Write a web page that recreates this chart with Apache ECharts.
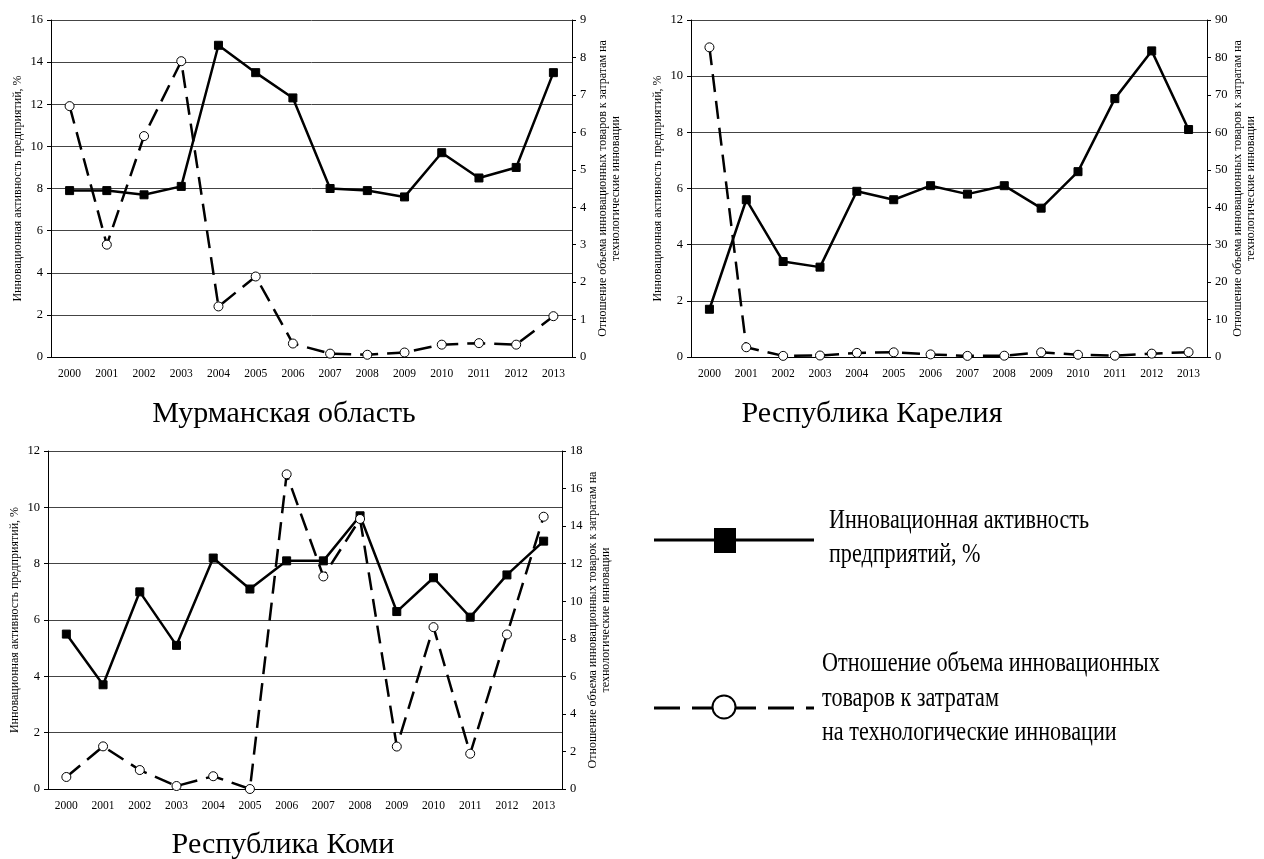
<!DOCTYPE html>
<html><head><meta charset="utf-8">
<script src="https://cdn.jsdelivr.net/npm/echarts@6/dist/echarts.min.js"></script>
<style>html,body{margin:0;padding:0;background:#fff}#c{width:1264px;height:859px}</style>
</head><body><div id="c"></div>
<script>
const years = ['2000','2001','2002','2003','2004','2005','2006','2007','2008','2009','2010','2011','2012','2013'];
const titles = ['Мурманская область','Республика Карелия','Республика Коми'];
const leftName = 'Инновационная активность предприятий, %';
const rightNames = [
  'Отношение объема инновационных товаров к затратам на\nтехнологические инновации',
  'Отношение объема инновационных товаров к затратам на\nтехнологические инновации',
  'Отношение объема инновационных товарок к затратам на\nтехнологические инновации'
];
const murmanskActivity = [7.9,7.9,7.7,8.1,14.8,13.5,12.3,8.0,7.9,7.6,9.7,8.5,9.0,13.5];
const murmanskRatio = [6.7,3.0,5.9,7.9,1.35,2.15,0.36,0.09,0.06,0.12,0.33,0.37,0.33,1.09];
const kareliaActivity = [1.7,5.6,3.4,3.2,5.9,5.6,6.1,5.8,6.1,5.3,6.6,9.2,10.9,8.1];
const kareliaRatio = [82.7,2.6,0.3,0.4,1.1,1.25,0.7,0.3,0.35,1.25,0.6,0.35,0.9,1.3];
const komiActivity = [5.5,3.7,7.0,5.1,8.2,7.1,8.1,8.1,9.7,6.3,7.5,6.1,7.6,8.8];
const komiRatio = [0.64,2.27,1.01,0.16,0.68,0.0,16.76,11.32,14.38,2.26,8.62,1.88,8.23,14.5];
const leftMax = [16,12,12], leftStep = [2,2,2];
const rightMax = [9,90,18], rightStep = [1,10,2];
const legendLines1 = ['Инновационная активность','предприятий, %'];
const legendLines2 = ['Отношение объема инновационных','товаров к затратам','на технологические инновации'];

const FONT = "'Liberation Serif','Times New Roman',serif";
const activity = [murmanskActivity, kareliaActivity, komiActivity];
const ratio = [murmanskRatio, kareliaRatio, komiRatio];
const grids = [
  {left:51, top:20, width:521, height:337},
  {left:691, top:20, width:516, height:337},
  {left:48, top:451, width:514, height:338}
];
const xAxis = [], yAxis = [], series = [];
for (let i=0;i<3;i++){
  xAxis.push({type:'category', gridIndex:i, data:years, boundaryGap:true,
    axisLine:{lineStyle:{color:'#000',width:1}},
    axisTick:{interval:0,length:5,lineStyle:{color:'#000'}},
    axisLabel:{interval:0,color:'#000',fontFamily:FONT,fontSize:11.5,margin:11},
    splitLine:{show:false}});
  yAxis.push({type:'value', gridIndex:i, position:'left', min:0, max:leftMax[i], interval:leftStep[i],
    name:leftName, nameLocation:'middle', nameRotate:90, nameGap:27,
    nameTextStyle:{color:'#000',fontFamily:FONT,fontSize:12},
    axisLine:{show:true,lineStyle:{color:'#000',width:1}},
    axisTick:{show:true,length:4,lineStyle:{color:'#000'}},
    axisLabel:{color:'#000',fontFamily:FONT,fontSize:12.5,margin:8},
    splitLine:{show:true,lineStyle:{color:'#444',width:1}}});
  yAxis.push({type:'value', gridIndex:i, position:'right', min:0, max:rightMax[i], interval:rightStep[i],
    name:rightNames[i], nameLocation:'middle', nameRotate:90, nameGap:24,
    nameTextStyle:{color:'#000',fontFamily:FONT,fontSize:12,lineHeight:13},
    axisLine:{show:true,lineStyle:{color:'#000',width:1}},
    axisTick:{show:true,length:4,lineStyle:{color:'#000'}},
    axisLabel:{color:'#000',fontFamily:FONT,fontSize:12.5,margin:8},
    splitLine:{show:false}});
  series.push({type:'line', xAxisIndex:i, yAxisIndex:2*i, data:activity[i],
    symbol:'rect', symbolSize:8, showAllSymbol:true,
    lineStyle:{color:'#000',width:2.5}, itemStyle:{color:'#000',borderColor:'#000'},
    z:3, animation:false});
  series.push({type:'line', xAxisIndex:i, yAxisIndex:2*i+1, data:ratio[i],
    symbol:'circle', symbolSize:9, showAllSymbol:true,
    lineStyle:{color:'#000',width:2.5,type:[18,9]}, itemStyle:{color:'#fff',borderColor:'#000',borderWidth:1},
    z:4, animation:false});
}
const tStyle = {fill:'#000', font:"30px 'Liberation Serif','Times New Roman',serif", textAlign:'center', textVerticalAlign:'middle'};
const legFont = "27px 'Liberation Serif','Times New Roman',serif";
function legText(t, x, y){
  return {type:'text', x:x, y:y, scaleX:0.82, style:{text:t, fill:'#000', font:legFont, textAlign:'left', textVerticalAlign:'middle'}};
}
const graphic = [
  {type:'text', x:284, y:414, style:Object.assign({text:titles[0]},tStyle)},
  {type:'text', x:872, y:414, style:Object.assign({text:titles[1]},tStyle)},
  {type:'text', x:283, y:845, style:Object.assign({text:titles[2]},tStyle)},
  {type:'line', shape:{x1:654,y1:540,x2:814,y2:540}, style:{stroke:'#000',lineWidth:3}},
  {type:'rect', shape:{x:714,y:528,width:22,height:25}, style:{fill:'#000'}},
  legText(legendLines1[0], 829, 521),
  legText(legendLines1[1], 829, 555),
  {type:'line', shape:{x1:654,y1:708,x2:814,y2:708}, style:{stroke:'#000',lineWidth:3,lineDash:[26,12]}},
  {type:'circle', shape:{cx:724,cy:707,r:11.5}, style:{fill:'#fff',stroke:'#000',lineWidth:2}},
  legText(legendLines2[0], 822, 664),
  legText(legendLines2[1], 822, 699),
  legText(legendLines2[2], 822, 733)
];
const chart = echarts.init(document.getElementById('c'), null, {renderer:'canvas'});
chart.setOption({backgroundColor:'#fff', animation:false, grid:grids, xAxis, yAxis, series, graphic});
</script></body></html>
